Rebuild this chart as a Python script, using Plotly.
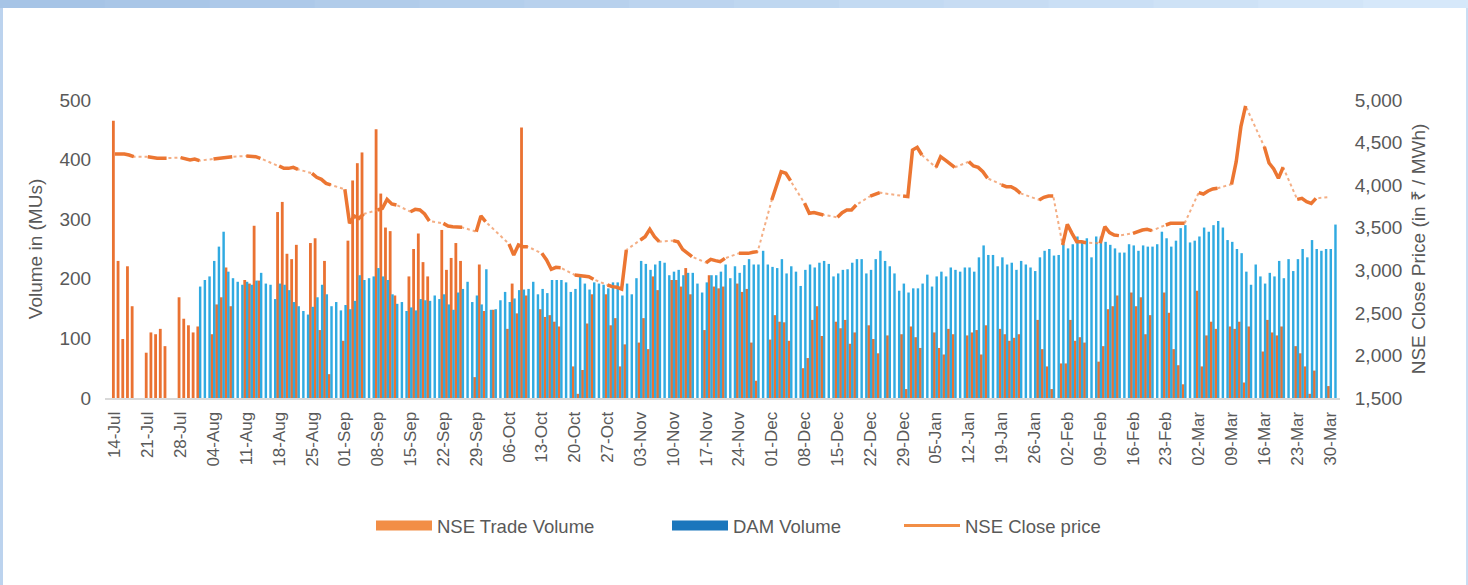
import pandas as pd
import plotly.graph_objects as go

N = None
# one entry per calendar day, rows are Mon..Sun weeks starting 14-Jul-2025
dates = pd.date_range("2025-07-14", "2026-03-31", freq="D")

nse_trade_volume = [
    465, 230, 99, 221, 154, N, N,
    76, 110, 107, 116, 87, N, N,
    169, 133, 122, 110, 120, N, N,
    107, 157, 169, 219, 154, N, N,
    198, 192, 289, 197, N, N, N,
    312, 329, 242, 233, 257, N, N,
    260, 268, 114, 230, 40, N, N,
    96, 264, 365, 394, 412, N, N,
    451, 343, 286, 280, 172, N, N,
    204, 250, 276, 228, 204, N, N,
    282, 215, 235, 260, 230, N, N,
    35, 224, 146, N, 148, N, N,
    116, 192, 142, 454, 172, N, N,
    149, 136, 139, 128, 120, N, N,
    53, 7, 47, 125, 174, N, N,
    174, 122, 134, 53, 90, N, N,
    93, 134, 82, 204, 181, N, N,
    198, 198, 187, 218, 174, N, N,
    114, 206, 187, 184, 187, N, N,
    192, 178, 183, 93, 29, N, N,
    98, 139, 128, 127, 96, N, N,
    50, 67, 131, 154, 104, N, N,
    128, 117, 131, 91, 110, N, N,
    122, 99, 75, N, 105, N, N,
    107, 15, 120, 102, 84, N, N,
    110, 84, 73, 116, 107, N, N,
    105, 110, 114, 73, 122, N, N,
    116, 107, 96, 101, 107, N, N,
    N, 131, 82, 53, 15, N, 58,
    58, 131, 96, 102, 93, N, N,
    61, 87, 149, 154, 172, N, N,
    177, 154, 169, 107, 139, N, N,
    177, 143, 82, 55, 23, N, N,
    180, 53, 105, 128, 116, N, N,
    120, 116, 128, 26, 120, N, N,
    78, 131, 110, 105, 120, N, N,
    87, 75, 53, 7, 46, N, N,
    20, N,
]

dam_volume = [
    N, N, N, N, N, N, N,
    N, N, N, N, N, N, N,
    N, N, N, N, 187, 198, 204,
    230, 254, 279, 212, 201, 195, 190,
    195, 190, 197, 210, 192, 190, 166,
    192, 190, 181, 161, 154, 146, 140,
    153, 169, 190, 174, 154, 161, 147,
    156, 149, 163, 206, 198, 201, 204,
    218, 204, 198, 174, 158, 161, 146,
    152, 147, 166, 164, 163, 172, 166,
    174, 157, 148, 177, 183, 195, 161,
    172, 157, 216, 148, 149, 164, 178,
    161, 167, 181, 182, 183, 195, 174,
    183, 176, 198, 198, 198, 194, 178,
    183, 207, 192, 182, 194, 192, 190,
    184, 194, 194, 172, 192, 174, 201,
    230, 225, 215, 224, 230, 227, 206,
    212, 215, 206, 210, 210, 192, 177,
    194, 206, 206, 212, 224, 201, 221,
    210, 223, 233, 224, 224, 247, 224,
    220, 218, 233, 209, 221, 212, 188,
    215, 224, 219, 227, 230, 225, 204,
    209, 215, 216, 227, 233, 233, 209,
    215, 233, 247, 230, 221, 209, 180,
    192, 177, 184, 184, 192, 207, 187,
    204, 212, 204, 219, 215, 212, 219,
    219, 212, 236, 256, 240, 240, 221,
    236, 224, 227, 215, 230, 224, 219,
    213, 236, 247, 250, 239, 240, 258,
    251, 258, 271, 264, 268, 236, 271,
    271, 262, 257, 251, 244, 244, 258,
    256, 247, 256, 254, 254, 258, 279,
    268, 254, 264, 285, 290, 261, 264,
    271, 286, 279, 290, 297, 286, 265,
    262, 250, 243, 212, 190, 224, 204,
    192, 210, 204, 230, 201, 233, 213,
    233, 250, 236, 265, 250, 247, 250,
    250, 291,
]

nse_close_price = [
    4366, 4366, 4366, 4354, 4334, N, N,
    4334, 4323, 4315, 4315, 4315, N, N,
    4323, 4307, 4295, 4307, 4288, N, N,
    4307, 4315, 4323, 4327, 4334, N, N,
    4342, 4342, 4334, 4315, N, N, N,
    4225, 4197, 4197, 4209, 4186, N, N,
    4139, 4092, 4068, 4021, 4002, N, N,
    3951, 3551, 3638, 3610, 3661, N, N,
    3708, 3728, 3833, 3779, 3767, N, N,
    3688, 3716, 3708, 3661, 3579, N, N,
    3551, 3520, 3512, 3512, 3504, N, N,
    3454, 3638, 3571, N, N, N, N,
    3309, 3180, 3297, 3277, 3277, N, N,
    3199, 3121, 3011, 3035, 3031, N, N,
    2945, 2937, 2937, 2925, 2894, N, N,
    2827, 2808, 2800, 2780, 3238, N, N,
    3356, 3395, 3481, 3395, 3336, N, N,
    3348, 3336, 3246, 3199, 3160, N, N,
    3089, 3129, 3113, 3101, 3140, N, N,
    3199, 3199, 3199, 3211, 3219, N, N,
    3826, 4002, 4158, 4139, 4053, N, N,
    3786, 3669, 3677, 3661, 3650, N, N,
    3622, 3677, 3708, 3708, 3767, N, N,
    3872, 3892, 3912, N, N, N, N,
    3872, 3865, 4413, 4444, 4354, N, N,
    4209, 4334, 4295, 4256, 4209, N, N,
    4276, 4225, 4209, 4158, 4080, N, N,
    4002, 3982, 3982, 3951, 3904, N, N,
    N, 3826, 3857, 3872, 3872, N, 3297,
    3540, 3434, 3336, 3336, 3324, N, N,
    3317, 3512, 3442, 3414, 3407, N, N,
    3434, 3454, 3473, 3481, 3465, N, N,
    3532, 3551, 3551, 3551, 3551, N, N,
    3912, 3896, 3931, 3955, 3963, N, N,
    4010, 4276, 4687, 4930, N, N, N,
    4450, 4260, 4190, 4080, 4210, N, N,
    3833, 3845, 3806, 3786, 3845, N, N,
    3860, N,
]

volume_ticks = [0, 100, 200, 300, 400, 500]
price_ticks = [1500, 2000, 2500, 3000, 3500, 4000, 4500, 5000]

DAY = 86400000
W, H = 1468, 585
L, R, T, B = 105, 128, 100, 187

fig = go.Figure()

fig.add_trace(go.Bar(
    x=dates, y=nse_trade_volume, name="NSE Trade Volume",
    marker=dict(color="#EA7232", line=dict(width=0)),
    width=0.6 * DAY, offset=-0.64 * DAY, showlegend=False,
))
fig.add_trace(go.Bar(
    x=dates, y=dam_volume, name="DAM Volume",
    marker=dict(color="#30AAE1", line=dict(width=0)),
    width=0.52 * DAY, offset=-0.1 * DAY, showlegend=False,
))
# dotted bridge across non-trading days
fig.add_trace(go.Scatter(
    x=dates, y=nse_close_price, yaxis="y2", mode="lines", connectgaps=True,
    line=dict(color="rgba(240,140,80,0.7)", width=2, dash="dot"),
    showlegend=False, hoverinfo="skip",
))
# solid segments for consecutive trading days
fig.add_trace(go.Scatter(
    x=dates, y=nse_close_price, yaxis="y2", mode="lines", connectgaps=False,
    line=dict(color="#EC7632", width=3.5),
    name="NSE Close price", showlegend=False,
))

# legend entries
legend_items = [
    ("NSE Trade Volume", "#F28E46", 10, "legend", 371),
    ("DAM Volume", "#1B76BC", 10, "legend2", 667),
    ("NSE Close price", "#F28E46", 3, "legend3", 899),
]
for name, color, lw, lg, px in legend_items:
    fig.add_trace(go.Scatter(
        x=[None], y=[None], mode="lines", name=name,
        line=dict(color=color, width=lw), legend=lg, showlegend=True,
    ))

legend_font = dict(family="Liberation Sans, Arial, sans-serif", size=18.5, color="#595959")
for name, color, lw, lg, px in legend_items:
    fig.layout[lg] = dict(
        xref="container", yref="container", x=px / W, y=1 - 526 / H,
        xanchor="left", yanchor="middle", orientation="h",
        font=legend_font, bgcolor="rgba(0,0,0,0)", itemwidth=56,
    )

tick_font = dict(family="Liberation Sans, Arial, sans-serif", size=19, color="#595959")
title_font = dict(family="Liberation Sans, Arial, sans-serif", size=19, color="#595959")

fig.update_layout(
    width=W, height=H,
    margin=dict(l=L, r=R, t=T, b=B, autoexpand=False),
    paper_bgcolor="#FFFFFF", plot_bgcolor="#FFFFFF",
    barmode="overlay",
    xaxis=dict(
        type="date",
        range=["2025-07-11 21:00", "2026-04-01 03:00"],
        tick0="2025-07-14", dtick=7 * DAY, tickformat="%d-%b",
        tickangle=-90, tickfont=dict(family="Liberation Sans, Arial, sans-serif", size=17, color="#595959"),
        showgrid=False, zeroline=False,
        showline=True, linecolor="#D9D9D9", linewidth=2,
        ticks="outside", ticklen=5, tickcolor="rgba(0,0,0,0)",
    ),
    yaxis=dict(
        range=[0, 500], tickvals=volume_ticks,
        showgrid=False, zeroline=False, tickfont=tick_font,
        ticks="outside", ticklen=9, tickcolor="rgba(0,0,0,0)",
        title=dict(text="Volume in (MUs)", font=title_font, standoff=11),
    ),
    yaxis2=dict(
        range=[1500, 5000], tickvals=price_ticks, tickformat=",d",
        overlaying="y", side="right",
        showgrid=False, zeroline=False, tickfont=tick_font,
        ticks="outside", ticklen=10, tickcolor="rgba(0,0,0,0)",
        title=dict(text="NSE Close Price (in ₹ / MWh)", font=title_font, standoff=10),
    ),
)

# slide frame (light blue border around the white card)
def px_x(p):
    return (p - L) / (W - L - R)

def px_y(p):
    return (H - B - p) / (H - T - B)

shapes = []
n = 14
c0, c1 = (166, 196, 230), (214, 232, 250)
for i in range(n):
    f = i / (n - 1)
    col = "rgb(%d,%d,%d)" % tuple(int(c0[k] + (c1[k] - c0[k]) * f) for k in range(3))
    shapes.append(dict(type="rect", xref="paper", yref="paper",
                       x0=px_x(i * W / n), x1=px_x((i + 1) * W / n + 1),
                       y0=px_y(8), y1=px_y(0), fillcolor=col, line=dict(width=0), layer="below"))
shapes.append(dict(type="rect", xref="paper", yref="paper", x0=px_x(0), x1=px_x(3),
                   y0=px_y(H), y1=px_y(8), fillcolor="#BCD3EE", line=dict(width=0), layer="below"))
shapes.append(dict(type="rect", xref="paper", yref="paper", x0=px_x(1466), x1=px_x(W),
                   y0=px_y(H), y1=px_y(8), fillcolor="#C9DDF3", line=dict(width=0), layer="below"))
fig.update_layout(shapes=shapes)

fig.write_html(
    "out.html",
    config={"displayModeBar": False},
    post_script="document.body.style.margin='0';document.body.style.overflow='hidden';",
)
